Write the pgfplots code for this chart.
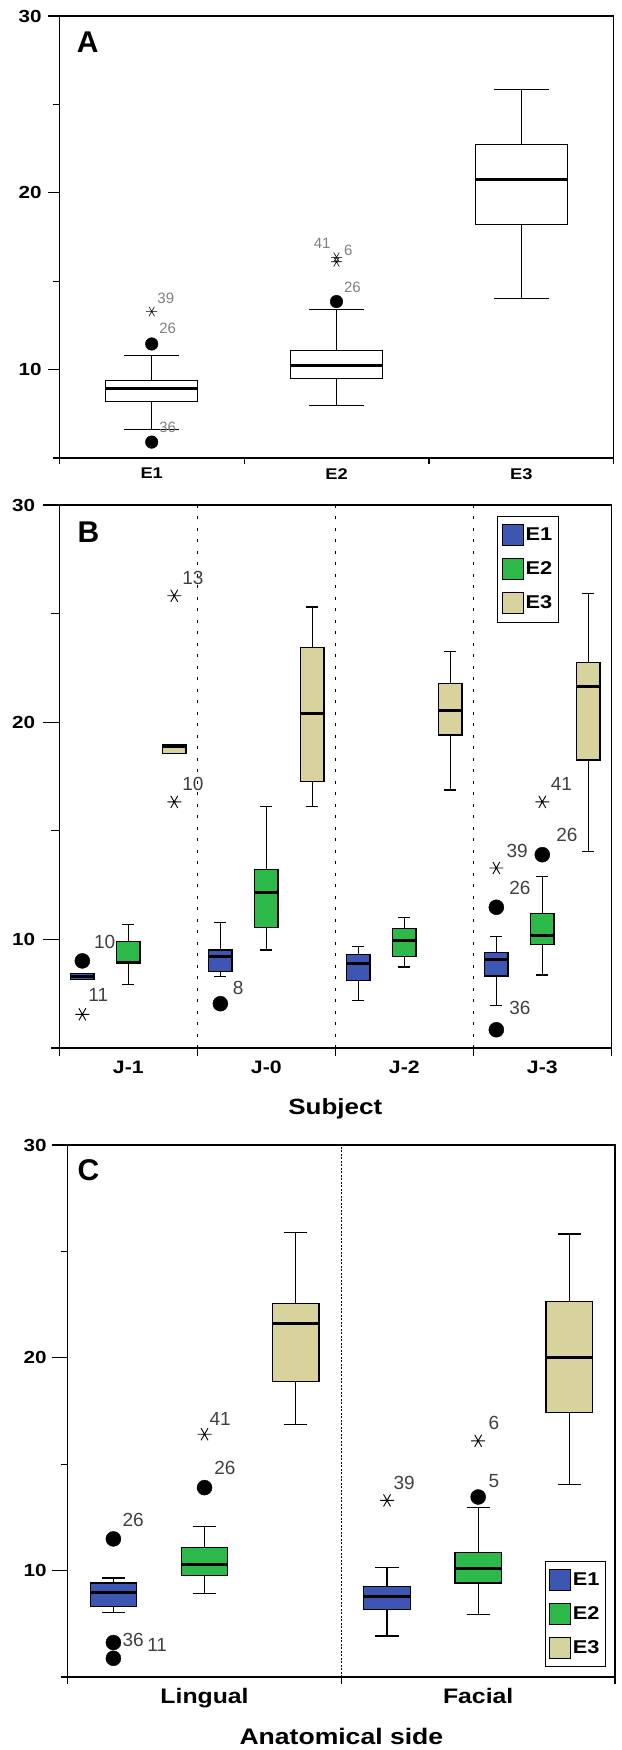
\documentclass[border=0pt]{standalone}
\usepackage{fontspec}
\setmainfont{Liberation Sans}
\newfontfamily\wide{Liberation Sans Bold}[FakeStretch=1.18]
\usepackage{pgfplots}
\pgfplotsset{compat=1.18}
\usepgfplotslibrary{statistics}

\definecolor{cE1}{RGB}{60,86,178}
\definecolor{cE2}{RGB}{45,184,74}
\definecolor{cE3}{RGB}{216,210,156}
\definecolor{lbl}{gray}{0.25}

\pgfplotsset{
  panel/.style={
    scale only axis, anchor=north west,
    boxplot/draw direction=y,
    ymin=5, ymax=30,
    ytick={10,20,30}, yticklabels={10,20,30},
    minor ytick={5,15,25},
    tick align=outside, tick pos=left,
    tick style={black, line width=1.2pt},
    major x tick style={draw=none},
    axis line style={line width=1.3pt},
    clip=false,
  },
  bxA/.style={boxplot prepared={box extend=0.5, whisker extend=0.3, #1},
    draw=black, fill=white, line width=0.9pt,
    boxplot/every median/.style={line width=2.4pt}},
  bx/.style 2 args={boxplot prepared={box extend=0.17, whisker extend=0.085, #2},
    draw=black, fill=#1, line width=1.2pt,
    boxplot/every median/.style={line width=3pt}},
  circ/.style={only marks, mark=*, mark size=7.5pt, black},
  star/.style={only marks, mark=asterisk, mark size=7pt, black, mark options={line width=0.9pt, rotate=90}},
  legimg/.style={legend image code/.code={
    \draw[##1, draw=black, line width=0.9pt] (0pt,-10.5pt) rectangle (21pt,10.5pt);}},
  legbox/.style={draw=black, line width=0.8pt,
    font=\wide\fontsize{18.5}{19}\selectfont, inner xsep=4pt, inner ysep=8pt,
    row sep=12pt, cells={anchor=west}},
}

\begin{document}
\begin{tikzpicture}
\useasboundingbox (0,0) rectangle (621pt,-1750pt);

% ---------------- A ----------------
\begin{axis}[panel, at={(59.3pt,-16pt)}, width=554.4pt, height=442pt,
  major tick length=11pt, minor tick length=6pt,
  xmin=0.5, xmax=3.5,
  xtick={1,2,3}, xticklabels={E1,E2,E3},
  minor xtick={0.5,1.5,2.5,3.5},
  yticklabel style={font=\wide\fontsize{17.5}{18}\selectfont, inner sep=6.5pt},
  xticklabel style={font=\wide\fontsize{15.5}{15}\selectfont, inner sep=0pt, yshift=1pt},
]
\addplot[bxA={draw position=1, lower whisker=6.60, lower quartile=8.18, median=8.93, upper quartile=9.38, upper whisker=10.81}] coordinates {};
\addplot[bxA={draw position=2, lower whisker=7.95, lower quartile=9.51, median=10.23, upper quartile=11.07, upper whisker=13.42}] coordinates {};
\addplot[bxA={draw position=3, lower whisker=14.0, lower quartile=18.23, median=20.75, upper quartile=22.73, upper whisker=25.85}] coordinates {};
\addplot[circ, mark size=6.3pt] coordinates {(1,11.45) (1,5.90) (2,13.85)};
\addplot[star, mark size=5.5pt, mark options={line width=0.6pt, rotate=90}] coordinates {(1,13.29) (2,16.35) (2,16.1)};
\begin{scope}[every node/.style={anchor=base west, inner sep=0pt, text=gray, font=\fontsize{15}{15}\selectfont}]
\node at (axis cs:1.03,13.76) {39};
\node at (axis cs:1.04,12.07) {26};
\node at (axis cs:1.04,6.47) {36};
\node at (axis cs:1.876,16.86) {41};
\node at (axis cs:2.04,16.48) {6};
\node at (axis cs:2.04,14.38) {26};
\end{scope}
\node[anchor=north west, inner sep=0pt, font=\fontsize{30}{30}\selectfont\bfseries]
  at (rel axis cs:0,1) [xshift=17.4pt, yshift=-15.7pt] {A};
\end{axis}

% ---------------- B ----------------
\begin{axis}[panel, legimg, at={(59.3pt,-505pt)}, width=552pt, height=543pt,
  major tick length=16.5pt, minor tick length=8pt,
  xmin=0.5, xmax=4.5,
  xtick={1,2,3,4}, xticklabels={J-1,J-0,J-2,J-3},
  minor xtick={0.5,1.5,2.5,3.5,4.5},
  yticklabel style={font=\wide\fontsize{17.5}{18}\selectfont, inner sep=7.5pt},
  xticklabel style={font=\wide\fontsize{18}{18}\selectfont, inner sep=0pt, yshift=4pt},
  xlabel={Subject},
  xlabel style={at={(0.5,0)}, anchor=north, yshift=-50pt, inner sep=0pt,
    font=\wide\fontsize{22}{22}\selectfont},
  legend style={legbox, at={(0.7935,0.98)}, anchor=north west},
]
\addlegendimage{fill=cE1}\addlegendentry{E1}
\addlegendimage{fill=cE2}\addlegendentry{E2}
\addlegendimage{fill=cE3}\addlegendentry{E3}
\draw[black, line width=1.5pt, dash pattern=on 3pt off 8.5pt] (axis cs:1.5,5) -- (axis cs:1.5,30);
\draw[black, line width=1.5pt, dash pattern=on 3pt off 8.5pt] (axis cs:2.5,5) -- (axis cs:2.5,30);
\draw[black, line width=1.5pt, dash pattern=on 3pt off 8.5pt] (axis cs:3.5,5) -- (axis cs:3.5,30);
% J-1
\addplot[bx={cE1}{draw position=0.667, lower whisker=8.17, lower quartile=8.17, median=8.30, upper quartile=8.44, upper whisker=8.44}] coordinates {};
\addplot[bx={cE2}{draw position=1.0, lower whisker=7.91, lower quartile=8.88, median=8.93, upper quartile=9.92, upper whisker=10.69}] coordinates {};
\addplot[bx={cE3}{draw position=1.333, lower whisker=18.55, lower quartile=18.55, median=18.88, upper quartile=18.96, upper whisker=18.96}] coordinates {};
% J-0
\addplot[bx={cE1}{draw position=1.667, lower whisker=8.31, lower quartile=8.52, median=9.21, upper quartile=9.51, upper whisker=10.79}] coordinates {};
\addplot[bx={cE2}{draw position=2.0, lower whisker=9.51, lower quartile=10.54, median=12.14, upper quartile=13.21, upper whisker=16.12}] coordinates {};
\addplot[bx={cE3}{draw position=2.333, lower whisker=16.13, lower quartile=17.27, median=20.41, upper quartile=23.44, upper whisker=25.30}] coordinates {};
% J-2
\addplot[bx={cE1}{draw position=2.667, lower whisker=7.17, lower quartile=8.09, median=8.88, upper quartile=9.31, upper whisker=9.67}] coordinates {};
\addplot[bx={cE2}{draw position=3.0, lower whisker=8.73, lower quartile=9.23, median=9.97, upper quartile=10.49, upper whisker=11.02}] coordinates {};
\addplot[bx={cE3}{draw position=3.333, lower whisker=16.88, lower quartile=19.41, median=20.54, upper quartile=21.78, upper whisker=23.27}] coordinates {};
% J-3
\addplot[bx={cE1}{draw position=3.667, lower whisker=6.96, lower quartile=8.32, median=9.06, upper quartile=9.38, upper whisker=10.13}] coordinates {};
\addplot[bx={cE2}{draw position=4.0, lower whisker=8.36, lower quartile=9.75, median=10.16, upper quartile=11.20, upper whisker=12.91}] coordinates {};
\addplot[bx={cE3}{draw position=4.333, lower whisker=14.03, lower quartile=18.26, median=21.64, upper quartile=22.75, upper whisker=25.92}] coordinates {};
\addplot[circ] coordinates {(0.667,9.01) (1.667,7.04) (3.667,11.48) (3.667,5.84) (4.0,13.90)};
\addplot[star] coordinates {(0.667,6.55) (1.333,25.82) (1.333,16.33) (3.667,13.29) (4.0,16.33)};
\begin{scope}[every node/.style={anchor=base west, inner sep=0pt, text=lbl, font=\fontsize{19}{19}\selectfont}]
\node at (axis cs:1.39,26.33) {13};
\node at (axis cs:1.39,16.87) {10};
\node at (axis cs:0.75,9.59) {10};
\node at (axis cs:0.71,7.12) {11};
\node at (axis cs:1.756,7.48) {8};
\node at (axis cs:4.06,16.87) {41};
\node at (axis cs:4.10,14.52) {26};
\node at (axis cs:3.74,13.78) {39};
\node at (axis cs:3.76,12.06) {26};
\node at (axis cs:3.76,6.55) {36};
\end{scope}
\node[anchor=north west, inner sep=0pt, font=\fontsize{30}{30}\selectfont\bfseries]
  at (rel axis cs:0,1) [xshift=18pt, yshift=-16.7pt] {B};
\end{axis}

% ---------------- C ----------------
\begin{axis}[panel, legimg, at={(67.7pt,-1145pt)}, width=547.3pt, height=532pt,
  major tick length=16pt, minor tick length=7pt,
  xmin=0.5, xmax=2.5,
  xtick={1,2}, xticklabels={Lingual,Facial},
  minor xtick={0.5,1.5,2.5},
  yticklabel style={font=\wide\fontsize{17.5}{18}\selectfont, inner sep=5pt},
  xticklabel style={font=\wide\fontsize{21}{21}\selectfont, inner sep=0pt, yshift=5pt},
  xlabel={Anatomical side},
  xlabel style={at={(0.5,0)}, anchor=north, yshift=-51pt, inner sep=0pt,
    font=\wide\fontsize{22.5}{23}\selectfont},
  legend style={legbox, at={(0.9835,0.0188)}, anchor=south east},
]
\addlegendimage{fill=cE1}\addlegendentry{E1}
\addlegendimage{fill=cE2}\addlegendentry{E2}
\addlegendimage{fill=cE3}\addlegendentry{E3}
\draw[black, line width=0.9pt, dash pattern=on 2pt off 1.5pt] (axis cs:1.5,5) -- (axis cs:1.5,30);
% Lingual
\addplot[bx={cE1}{draw position=0.667, lower whisker=8.03, lower quartile=8.32, median=8.96, upper quartile=9.42, upper whisker=9.65}] coordinates {};
\addplot[bx={cE2}{draw position=1.0, lower whisker=8.93, lower quartile=9.78, median=10.31, upper quartile=11.07, upper whisker=12.06}] coordinates {};
\addplot[bx={cE3}{draw position=1.333, lower whisker=16.87, lower quartile=18.90, median=21.63, upper quartile=22.54, upper whisker=25.90}] coordinates {};
% Facial
\addplot[bx={cE1}{draw position=1.667, lower whisker=6.93, lower quartile=8.19, median=8.79, upper quartile=9.26, upper whisker=10.16}] coordinates {};
\addplot[bx={cE2}{draw position=2.0, lower whisker=7.92, lower quartile=9.42, median=10.09, upper quartile=10.86, upper whisker=12.96}] coordinates {};
\addplot[bx={cE3}{draw position=2.333, lower whisker=14.06, lower quartile=17.42, median=20.03, upper quartile=22.64, upper whisker=25.82}] coordinates {};
\addplot[circ] coordinates {(0.667,11.49) (0.667,6.62) (0.667,5.88) (1.0,13.90) (2.0,13.46)};
\addplot[star] coordinates {(1.0,16.41) (1.667,13.30) (2.0,16.10)};
\begin{scope}[every node/.style={anchor=base west, inner sep=0pt, text=lbl, font=\fontsize{19}{19}\selectfont}]
\node at (axis cs:0.70,12.06) {26};
\node at (axis cs:0.70,6.43) {36};
\node at (axis cs:0.79,6.19) {11};
\node at (axis cs:1.035,14.53) {26};
\node at (axis cs:1.018,16.82) {41};
\node at (axis cs:1.69,13.82) {39};
\node at (axis cs:2.037,13.90) {5};
\node at (axis cs:2.037,16.65) {6};
\end{scope}
\node[anchor=north west, inner sep=0pt, font=\fontsize{30}{30}\selectfont\bfseries]
  at (rel axis cs:0,1) [xshift=9.6pt, yshift=-14.3pt] {C};
\end{axis}
\end{tikzpicture}
\end{document}
